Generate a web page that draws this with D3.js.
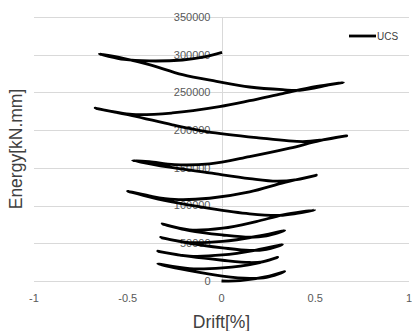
<!DOCTYPE html>
<html>
<head>
<meta charset="utf-8">
<script src="https://cdn.jsdelivr.net/npm/d3@7/dist/d3.min.js"></script>
<style>
  html, body {
    margin: 0;
    padding: 0;
    background: #fff;
  }

  .grid line {
    stroke: #d9d9d9;
    stroke-width: 1;
  }

  .tick-label {
    font-family: "Liberation Sans", Arial, sans-serif;
    font-size: 11px;
    fill: #595959;
  }

  .axis-title {
    font-family: "Liberation Sans", Arial, sans-serif;
    font-size: 17.5px;
    fill: #404040;
  }

  .series {
    fill: none;
    stroke: #000;
    stroke-width: 2.8;
    stroke-linejoin: round;
  }
</style>
</head>
<body>
<div id="chart"></div>
<script>
  // UCS 试件 累积能量 - 位移角
  let drift = [
    0, 0.1, 0.24, 0.337,
    0.24, 0.15, 0.005, -0.17, -0.34,
    -0.17, 0.005, 0.185, 0.30,
    0.22, 0.15, 0.005, -0.17, -0.34,
    -0.17, 0.005, 0.185, 0.325,
    0.24, 0.15, 0.005, -0.17, -0.325,
    -0.17, 0.005, 0.185, 0.337,
    0.24, 0.15, 0.005, -0.171, -0.317,
    -0.171, 0.007, 0.185, 0.328, 0.497,
    0.401, 0.31, 0.15, -0.064, -0.278, -0.501,
    -0.385, -0.251, -0.064, 0.15, 0.337, 0.506,
    0.401, 0.294, 0.15, -0.064, -0.278, -0.474,
    -0.385, -0.251, -0.064, 0.15, 0.364, 0.524, 0.668,
    0.54, 0.433, 0.187, -0.08, -0.262, -0.476, -0.674,
    -0.476, -0.262, -0.011, 0.15, 0.326, 0.508, 0.65,
    0.58, 0.417, 0.326, 0.15, -0.027, -0.208, -0.385, -0.524, -0.652,
    -0.519, -0.385, -0.208, -0.091, 0.003
  ];

  let energy = [
    0, 400, 5700, 12500,
    4900, 3600, 6600, 13700, 22600,
    16400, 17500, 23500, 31400,
    25500, 24500, 27500, 32500, 39500,
    33000, 34500, 41000, 48200,
    42000, 40500, 44000, 50000, 57700,
    51000, 52500, 59000, 66800,
    59800, 58000, 61000, 66800, 75600,
    67700, 70000, 78800, 87600, 94000,
    89600, 87000, 89000, 96200, 105500, 119000,
    112800, 108100, 109700, 118100, 130700, 140300,
    134400, 132300, 135800, 143300, 150900, 159600,
    158200, 154200, 155300, 164900, 176100, 186100, 192500,
    187100, 184800, 190100, 198100, 207000, 219400, 229200,
    220800, 222800, 231200, 239000, 248500, 258000, 263200,
    260200, 252900, 253600, 257200, 264700, 273500, 286800, 295100, 301000,
    293700, 291700, 293000, 297000, 303000
  ];

  let xTicks = [-1, -0.5, 0, 0.5, 1];
  let yTicks = [0, 50000, 100000, 150000, 200000, 250000, 300000, 350000];
  let seriesName = 'UCS';

  (function() {
    let width = 412;
    let height = 331;

    let margin = {
      top: 17,
      right: 3,
      bottom: 50,
      left: 34
    };

    let svg = d3.select('#chart').append('svg')
      .attr('width', width)
      .attr('height', height);

    let x = d3.scaleLinear()
      .domain([-1, 1])
      .range([margin.left, width - margin.right]);

    let y = d3.scaleLinear()
      .domain([0, 350000])
      .range([height - margin.bottom, margin.top]);

    let data = drift.map(function(d, i) {
      return {x: d, y: energy[i]};
    });

    // 网格线
    let grid = svg.append('g').attr('class', 'grid');

    grid.selectAll('.hline')
      .data(yTicks)
      .enter()
      .append('line')
      .attr('class', 'hline')
      .attr('x1', x(-1))
      .attr('x2', x(1))
      .attr('y1', function(d) { return Math.round(y(d)) + 0.5; })
      .attr('y2', function(d) { return Math.round(y(d)) + 0.5; });

    grid.append('line')
      .attr('x1', Math.round(x(0)) + 0.5)
      .attr('x2', Math.round(x(0)) + 0.5)
      .attr('y1', y(350000))
      .attr('y2', y(0));

    // 纵轴刻度 (在 x=0 处)
    svg.append('g')
      .selectAll('text')
      .data(yTicks)
      .enter()
      .append('text')
      .attr('class', 'tick-label')
      .attr('x', x(0) - 11)
      .attr('y', function(d) { return y(d); })
      .attr('dy', '0.35em')
      .attr('text-anchor', 'end')
      .text(function(d) { return d; });

    // 横轴刻度
    svg.append('g')
      .selectAll('text')
      .data(xTicks)
      .enter()
      .append('text')
      .attr('class', 'tick-label')
      .attr('x', function(d) { return x(d); })
      .attr('y', y(0) + 17)
      .attr('dy', '0.35em')
      .attr('text-anchor', 'middle')
      .text(function(d) { return d; });

    let line = d3.line()
      .x(function(d) { return x(d.x); })
      .y(function(d) { return y(d.y); })
      .curve(d3.curveCatmullRom.alpha(0.5));

    svg.append('path')
      .datum(data)
      .attr('class', 'series')
      .attr('d', line);

    // 轴标题
    svg.append('text')
      .attr('class', 'axis-title')
      .attr('x', x(0))
      .attr('y', 328)
      .attr('text-anchor', 'middle')
      .text('Drift[%]');

    svg.append('text')
      .attr('class', 'axis-title')
      .attr('transform', 'translate(22,' + 149 + ') rotate(-90)')
      .attr('text-anchor', 'middle')
      .text('Energy[kN.mm]');

    // 图例
    let legend = svg.append('g')
      .attr('transform', 'translate(349,36)');

    legend.append('line')
      .attr('x1', 0)
      .attr('x2', 27)
      .attr('y1', 0)
      .attr('y2', 0)
      .attr('stroke', '#000')
      .attr('stroke-width', 2.8);

    legend.append('text')
      .attr('class', 'tick-label')
      .attr('x', 28)
      .attr('y', 0)
      .attr('dy', '0.35em')
      .style('font-size', '10px')
      .style('fill', '#404040')
      .text(seriesName);
  })();
</script>
</body>
</html>
